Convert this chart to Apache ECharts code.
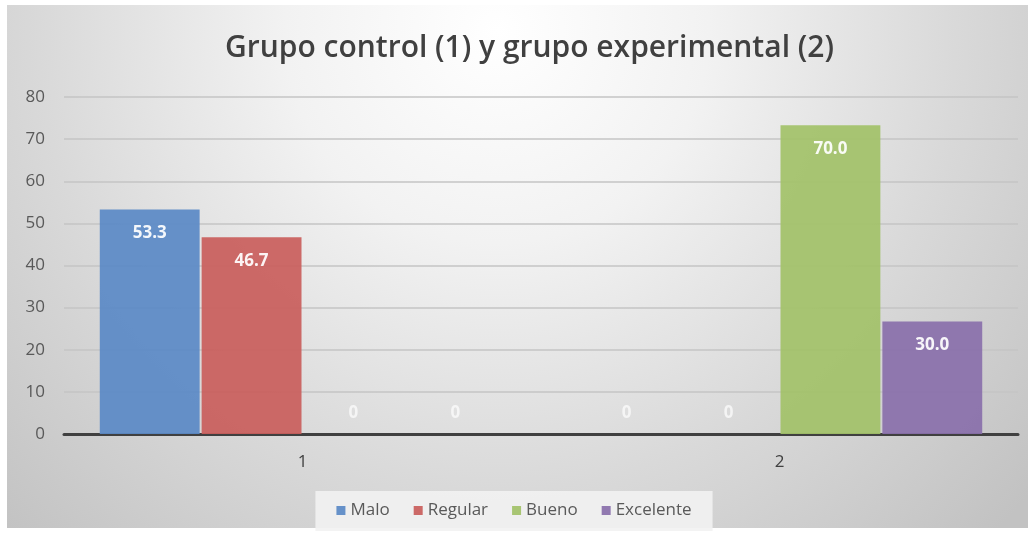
<!DOCTYPE html>
<html>
<head>
<meta charset="utf-8">
<script src="https://cdn.jsdelivr.net/npm/echarts@6/dist/echarts.min.js"></script>
<style>html,body{margin:0;padding:0;background:#fff}#c{width:1028px;height:533px}</style>
</head>
<body>
<div id="c"></div>
<script>
const categories = ['1', '2'];
const seriesNames = ['Malo', 'Regular', 'Bueno', 'Excelente'];
const malo = [53.3, 0];
const regular = [46.7, 0];
const bueno = [0, 73.3];
const excelente = [0, 26.7];
const maloLabels = ['53.3', '0'];
const regularLabels = ['46.7', '0'];
const buenoLabels = ['0', '70.0'];
const excelenteLabels = ['0', '30.0'];
const yTicks = [0, 10, 20, 30, 40, 50, 60, 70, 80];

const colors = ['#5b8ac6', '#c95f5c', '#a3c269', '#8a70ab'];
const valuesList = [malo, regular, bueno, excelente];
const labelsList = [maloLabels, regularLabels, buenoLabels, excelenteLabels];
const FONT = 'Open Sans';

const chart = echarts.init(document.getElementById('c'), null, {renderer: 'canvas'});
const series = seriesNames.map((name, i) => ({
  name: name,
  type: 'bar',
  barGap: '2%',
  barCategoryGap: '15%',
  itemStyle: {color: colors[i], opacity: 0.93},
  data: valuesList[i].map((v, j) => ({
    value: v,
    label: v === 0
      ? {position: 'top', distance: 12, color: 'rgba(255,255,255,0.75)'}
      : {position: 'insideTop', distance: 15, color: '#ffffff'}
  })),
  label: {
    show: true,
    fontFamily: FONT,
    fontSize: 17,
    fontWeight: 'bold',
    formatter: (p) => labelsList[i][p.dataIndex]
  }
}));

chart.setOption({
  backgroundColor: '#ffffff',
  animation: false,
  color: colors,
  graphic: [{
    type: 'rect',
    z: -10,
    silent: true,
    shape: {x: 7, y: 5, width: 1021, height: 523},
    style: {
      fill: {
        type: 'radial', x: 0.48, y: 0.05, r: 1.35,
        colorStops: [
          {offset: 0, color: '#ffffff'},
          {offset: 0.3, color: '#f2f2f2'},
          {offset: 0.65, color: '#d9d9d9'},
          {offset: 1, color: '#c2c2c2'}
        ]
      }
    }
  }],
  title: {
    text: 'Grupo control (1) y grupo experimental (2)',
    left: 220,
    top: 28,
    textStyle: {fontFamily: FONT, fontSize: 30, fontWeight: 600, color: '#404040'}
  },
  legend: {
    bottom: 2,
    left: 'center',
    itemWidth: 9,
    itemHeight: 9,
    itemGap: 24,
    icon: 'rect',
    backgroundColor: 'rgba(242,242,242,0.9)',
    padding: [11, 21, 12, 21],
    textStyle: {fontFamily: FONT, fontSize: 17, color: '#595959'},
    data: seriesNames
  },
  grid: {left: 64, right: 10, top: 97, bottom: 99},
  xAxis: {
    type: 'category',
    data: categories,
    axisLine: {lineStyle: {color: '#404040', width: 3}},
    axisTick: {show: false},
    axisLabel: {fontFamily: FONT, fontSize: 17, color: '#404040', margin: 20}
  },
  yAxis: {
    type: 'value',
    min: 0,
    max: 80,
    interval: 10,
    axisLine: {show: false},
    axisTick: {show: false},
    splitLine: {lineStyle: {color: '#c4c4c4', width: 1.5}},
    axisLabel: {fontFamily: FONT, fontSize: 17, color: '#595959', margin: 19,
      formatter: (v) => yTicks.includes(v) ? String(v) : ''}
  },
  series: series
});
</script>
</body>
</html>
